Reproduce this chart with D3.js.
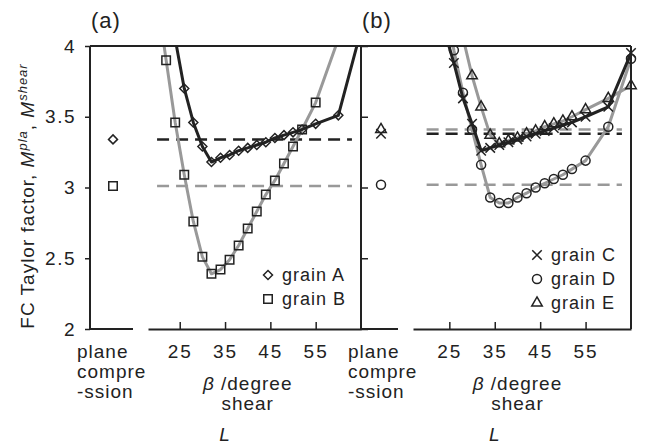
<!DOCTYPE html>
<html>
<head>
<meta charset="utf-8">
<script src="https://cdn.jsdelivr.net/npm/d3@7"></script>
<style>
  body { margin: 0; background: #fff; }
  text { font-family: "Liberation Sans", Arial, sans-serif; fill: #222; letter-spacing: 1px; }
</style>
</head>
<body>
<script>
// shear angle beta (degree) used for every grain
var beta = [20, 22, 24, 26, 28, 30, 32, 34, 36, 38, 40, 42, 44, 46, 48, 50, 52, 55, 60, 65];

// FC Taylor factor M^shear per grain (values above 4 run off the top)
var grainA = [4.8, 4.4, 4.05, 3.70, 3.46, 3.29, 3.18, 3.21, 3.23, 3.26, 3.28, 3.30, 3.32, 3.35, 3.37, 3.39, 3.41, 3.45, 3.51, 4.11];
var grainB = [4.35, 3.90, 3.46, 3.09, 2.76, 2.51, 2.39, 2.42, 2.49, 2.59, 2.71, 2.83, 2.95, 3.05, 3.17, 3.29, 3.41, 3.60, 4.05, 4.6];
var grainC = [4.6, 4.4, 4.1, 3.88, 3.63, 3.45, 3.26, 3.28, 3.30, 3.32, 3.34, 3.36, 3.38, 3.40, 3.42, 3.44, 3.46, 3.50, 3.57, 3.95];
var grainD = [5.0, 4.7, 4.35, 3.97, 3.67, 3.41, 3.16, 2.93, 2.89, 2.89, 2.93, 2.96, 3.00, 3.03, 3.06, 3.09, 3.13, 3.19, 3.43, 3.91];
var grainE = [5.0, 4.8, 4.6, 4.35, 4.06, 3.79, 3.57, 3.37, 3.31, 3.33, 3.35, 3.38, 3.40, 3.43, 3.45, 3.47, 3.50, 3.55, 3.63, 3.72];

// M^pla for plane compression, grains A..E
var planeValues = [3.34, 3.01, 3.38, 3.02, 3.41];
var grainNames = ['grain A', 'grain B', 'grain C', 'grain D', 'grain E'];

var yTicks = [2, 2.5, 3, 3.5, 4];
var xTicks = [25, 35, 45, 55];
var dashRange = [20, 63];

var width = 646, height = 447;
var plotTop = 46, plotBottom = 329;
var black = '#222', grey = '#999';

var series = [grainA, grainB, grainC, grainD, grainE];
var colors = [black, grey, black, grey, grey];

// custom marker shapes
var diamond = { draw: function(c, s) { var r = Math.sqrt(s) / 2; c.moveTo(0, -r); c.lineTo(r, 0); c.lineTo(0, r); c.lineTo(-r, 0); c.closePath(); } };
var cross = { draw: function(c, s) { var r = Math.sqrt(s) / 2; c.moveTo(-r, -r); c.lineTo(r, r); c.moveTo(r, -r); c.lineTo(-r, r); } };
var symbols = [
  d3.symbol().type(diamond).size(81),
  d3.symbol().type(d3.symbolSquare).size(72),
  d3.symbol().type(cross).size(90),
  d3.symbol().type(d3.symbolCircle).size(64),
  d3.symbol().type(d3.symbolTriangle).size(48)
];

var panels = [
  { label: '(a)', plane: [90, 133], shear: [148, 361], dom: [18, 65], grains: [1, 0], legend: [268, 275] },
  { label: '(b)', plane: [361, 398], shear: [413, 631], dom: [17, 65], grains: [3, 4, 2], legend: [537, 255] }
];

var svg = d3.select('body').append('svg')
    .attr('width', width)
    .attr('height', height);

var y = d3.scaleLinear().domain([2, 4]).range([plotBottom, plotTop]);

panels.forEach(function(p, pi) {
  var x = d3.scaleLinear().domain(p.dom).range(p.shear);
  var planeX = (p.plane[0] + p.plane[1]) / 2 + 1.5;

  var clipId = 'clip' + pi;
  svg.append('clipPath').attr('id', clipId)
    .append('rect')
      .attr('x', p.shear[0]).attr('y', plotTop)
      .attr('width', p.shear[1] - p.shear[0]).attr('height', plotBottom - plotTop);

  var g = svg.append('g').attr('clip-path', 'url(#' + clipId + ')');

  // plane compression level as dashed reference lines
  p.grains.forEach(function(k) {
    g.append('line')
      .attr('x1', x(dashRange[0])).attr('x2', x(dashRange[1]))
      .attr('y1', y(planeValues[k])).attr('y2', y(planeValues[k]))
      .style('stroke', colors[k])
      .style('stroke-width', 2.5)
      .style('stroke-dasharray', '12,7');
  });

  var line = d3.line()
      .x(function(d, i) { return x(beta[i]); })
      .y(function(d) { return y(d); });

  // grey series first, black on top
  var order = p.grains.slice().sort(function(a, b) { return colors[a] === black ? 1 : -1; });
  order.forEach(function(k) {
    g.append('path')
      .datum(series[k])
      .attr('d', line)
      .style('fill', 'none')
      .style('stroke', colors[k])
      .style('stroke-width', 3)
      .style('stroke-linejoin', 'round');

    var pts = series[k].map(function(d, i) { return [beta[i], d]; })
        .filter(function(d) { return d[1] <= 4.02; });

    svg.selectAll('.m' + k)
      .data(pts)
      .enter().append('path')
        .attr('class', 'm' + k)
        .attr('transform', function(d) { return 'translate(' + x(d[0]) + ',' + y(d[1]) + ')'; })
        .attr('d', symbols[k]())
        .style('fill', 'none')
        .style('stroke', black)
        .style('stroke-width', 1.5);
  });

  // plane compression markers
  p.grains.forEach(function(k) {
    svg.append('path')
      .attr('transform', 'translate(' + planeX + ',' + y(planeValues[k]) + ')')
      .attr('d', symbols[k]())
      .style('fill', 'none')
      .style('stroke', black)
      .style('stroke-width', 1.5);
  });

  // shear axis
  var ax = svg.append('g')
      .attr('transform', 'translate(0,' + plotBottom + ')')
      .call(d3.axisBottom(x).tickValues(xTicks).tickSizeInner(-7).tickSizeOuter(0).tickPadding(16));
  ax.select('.domain').style('stroke', black).style('stroke-width', 2);
  ax.selectAll('line').style('stroke', black).style('stroke-width', 1.5);
  ax.selectAll('text').style('font-size', '19px').style('letter-spacing', '2px').attr('fill', black);

  // plane compression baseline
  svg.append('line')
    .attr('x1', p.plane[0]).attr('x2', p.plane[1])
    .attr('y1', plotBottom).attr('y2', plotBottom)
    .style('stroke', black).style('stroke-width', 2);

  // labels under axis
  ['plane', 'compre', '-ssion'].forEach(function(t, i) {
    svg.append('text')
      .attr('x', p.plane[0] - 13)
      .attr('y', 358 + i * 20)
      .style('font-size', '19px')
      .text(t);
  });

  var xl = svg.append('text')
      .attr('x', x(40)).attr('y', 390)
      .attr('text-anchor', 'middle')
      .style('font-size', '19px');
  xl.append('tspan').style('font-style', 'italic').text('β');
  xl.append('tspan').text(' /degree');

  svg.append('text')
    .attr('x', x(40)).attr('y', 410)
    .attr('text-anchor', 'middle')
    .style('font-size', '19px')
    .text('shear');

  svg.append('text')
    .attr('x', x(35)).attr('y', 441)
    .attr('text-anchor', 'middle')
    .style('font-size', '19px')
    .style('font-style', 'italic')
    .text('L');

  svg.append('text')
    .attr('x', p.plane[0] + 1).attr('y', 28)
    .style('font-size', '22px')
    .text(p.label);

  // legend
  var legendOrder = pi === 0 ? [0, 1] : [2, 3, 4];
  legendOrder.forEach(function(k, i) {
    var ly = p.legend[1] + i * 24;
    svg.append('path')
      .attr('transform', 'translate(' + p.legend[0] + ',' + ly + ')')
      .attr('d', symbols[k]())
      .style('fill', 'none')
      .style('stroke', black)
      .style('stroke-width', 1.5);
    svg.append('text')
      .attr('x', p.legend[0] + 14)
      .attr('y', ly + 6)
      .style('font-size', '18px')
      .text(grainNames[k]);
  });
});

// y axis
var yAxis = svg.append('g')
    .attr('transform', 'translate(90,0)')
    .call(d3.axisLeft(y).tickValues(yTicks).tickSize(5).tickPadding(9).tickFormat(d3.format('~g')));
yAxis.select('.domain').remove();
yAxis.selectAll('line').style('stroke', black).style('stroke-width', 1.5);
yAxis.selectAll('text').style('font-size', '19px').style('letter-spacing', '1.5px').attr('fill', black);

// inner ticks on the divider of panel (b)
var yAxisB = svg.append('g')
    .attr('transform', 'translate(361,0)')
    .call(d3.axisRight(y).tickValues(yTicks).tickSize(7).tickFormat(''));
yAxisB.select('.domain').remove();
yAxisB.selectAll('line').style('stroke', black).style('stroke-width', 1.5);

// frame
[[90, plotTop, 90, plotBottom], [361, plotTop, 361, plotBottom], [631, plotTop, 631, plotBottom], [90, plotTop, 631, plotTop]]
  .forEach(function(l) {
    svg.append('line')
      .attr('x1', l[0]).attr('y1', l[1]).attr('x2', l[2]).attr('y2', l[3])
      .style('stroke', black).style('stroke-width', 2);
  });

// y axis title
var yt = svg.append('text')
    .attr('transform', 'translate(34,196) rotate(-90)')
    .attr('text-anchor', 'middle')
    .style('font-size', '19px');
yt.append('tspan').text('FC Taylor factor, ');
yt.append('tspan').style('font-style', 'italic').text('M');
yt.append('tspan').attr('dy', -7).style('font-size', '13px').style('font-style', 'italic').text('pla');
yt.append('tspan').attr('dy', 7).text(', ');
yt.append('tspan').style('font-style', 'italic').text('M');
yt.append('tspan').attr('dy', -7).style('font-size', '13px').style('font-style', 'italic').text('shear');
</script>
</body>
</html>
